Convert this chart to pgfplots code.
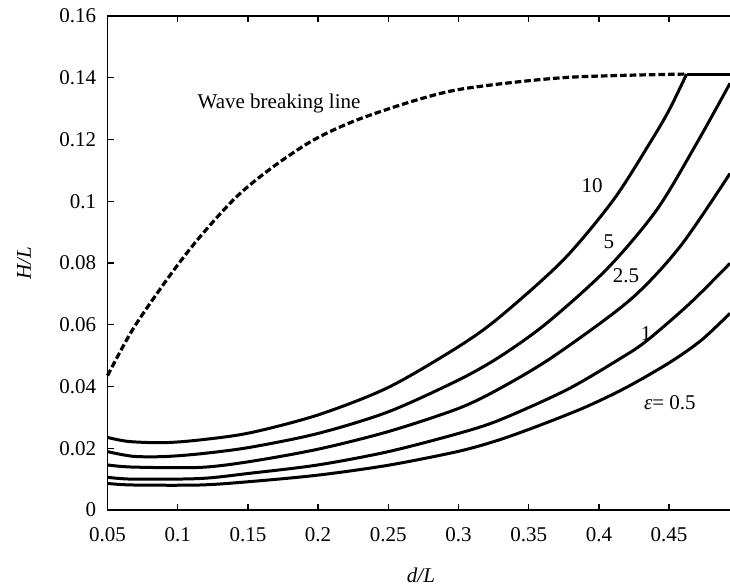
\documentclass[border=0pt]{standalone}
\usepackage{fontspec}
\setmainfont{Liberation Serif}
\usepackage{pgfplots}
\pgfplotsset{compat=1.18}
\begin{document}
\fontsize{10.5}{12.6}\selectfont
\begin{tikzpicture}
\begin{axis}[
  scale only axis, width=311.25pt, height=247pt,
  xmin=0.05, xmax=0.4934, ymin=0, ymax=0.16,
  xtick={0.05,0.1,0.15,0.2,0.25,0.3,0.35,0.4,0.45},
  ytick={0,0.02,0.04,0.06,0.08,0.1,0.12,0.14,0.16},
  xticklabels={0.05,0.1,0.15,0.2,0.25,0.3,0.35,0.4,0.45},
  yticklabels={0,0.02,0.04,0.06,0.08,0.1,0.12,0.14,0.16},
  tick align=inside, major tick length=3pt,
  xtick pos=both, ytick pos=left, xticklabel pos=lower,
  tick style={line width=0.65pt, black},
  axis line style={draw=none},
  scaled ticks=false,
  clip=false,
  /pgf/number format/assume math mode=true,
  tick label style={font=\fontsize{10.5}{12}\selectfont},
  xticklabel style={yshift=-5pt},
  yticklabel style={xshift=-2pt},
  xlabel={\textit{d/L}}, ylabel={\textit{H/L}},
  xlabel style={at={(rel axis cs:0.5036,-0.1316)}, anchor=center},
  ylabel style={at={(rel axis cs:-0.1341,0.5)}, anchor=center, rotate=0},
  label style={font=\fontsize{10.5}{12}\selectfont},
]
\draw[line width=0.65pt] (rel axis cs:1,1) -- (rel axis cs:0,1) -- (rel axis cs:0,0) -- (rel axis cs:1,0);
% wave breaking line
\addplot[black, line width=1.6pt, dash pattern=on 3.3pt off 1.5pt, smooth] coordinates {
(0.05,0.0435) (0.0684,0.0588) (0.0945,0.0760) (0.1159,0.0885) (0.142,0.1015)
(0.1681,0.1112) (0.1966,0.1198) (0.2275,0.1263) (0.2702,0.1328) (0.3058,0.1366)
(0.377,0.1401) (0.4625,0.1412)};
\addplot[black, line width=1.5pt] coordinates {(0.4625,0.1412) (0.4934,0.1412)};
% epsilon = 10
\addplot[black, line width=1.5pt, smooth] coordinates {
(0.05,0.0235) (0.065,0.0222) (0.09,0.0218) (0.116,0.0227) (0.1515,0.0250)
(0.2,0.0308) (0.25,0.0397) (0.3,0.0529) (0.3296,0.0626) (0.3747,0.0810)
(0.4103,0.1004) (0.4365,0.1190) (0.45,0.1295) (0.4625,0.1412)};
% epsilon = 5
\addplot[black, line width=1.5pt, smooth] coordinates {
(0.05,0.0189) (0.068,0.0174) (0.09,0.0173) (0.116,0.0182) (0.1515,0.0203)
(0.2,0.0248) (0.25,0.0318) (0.3,0.0421) (0.3296,0.0497) (0.3628,0.0605)
(0.4056,0.0780) (0.4412,0.0972) (0.4697,0.1188) (0.4934,0.1382)};
% epsilon = 2.5
\addplot[black, line width=1.5pt, smooth] coordinates {
(0.05,0.0146) (0.068,0.0139) (0.116,0.0138) (0.1515,0.0157) (0.2,0.0197)
(0.25,0.0254) (0.3,0.0329) (0.3296,0.0394) (0.3675,0.0497) (0.4221,0.0680)
(0.4578,0.0853) (0.4934,0.1090)};
% epsilon = 1
\addplot[black, line width=1.5pt, smooth] coordinates {
(0.05,0.0106) (0.068,0.0100) (0.116,0.0102) (0.1515,0.0119) (0.2,0.0146)
(0.25,0.0189) (0.3,0.0248) (0.3296,0.0292) (0.377,0.0389) (0.415,0.0490)
(0.434,0.0548) (0.465,0.0670) (0.4934,0.0799)};
% epsilon = 0.5
\addplot[black, line width=1.5pt, smooth] coordinates {
(0.05,0.0086) (0.068,0.0081) (0.116,0.0081) (0.1515,0.0092) (0.2,0.0113)
(0.25,0.0145) (0.3,0.0190) (0.3296,0.0228) (0.36,0.0278) (0.3913,0.0335)
(0.42,0.0398) (0.4505,0.0478) (0.473,0.0550) (0.4934,0.0637)};
\node at (axis cs:0.1722,0.1318) {Wave breaking line};
\node at (axis cs:0.3951,0.1050) {10};
\node at (axis cs:0.4072,0.0868) {5};
\node at (axis cs:0.4193,0.0758) {2.5};
\node at (axis cs:0.4336,0.0573) {1};
\node at (axis cs:0.4506,0.0347) {\textit{ε}= 0.5};
\coordinate (bbsw) at (rel axis cs:-0.1727,-0.1498);
\coordinate (bbne) at (rel axis cs:1,1.0324);
\end{axis}
\pgfresetboundingbox
\path[use as bounding box] (bbsw) rectangle (bbne);
\end{tikzpicture}
\end{document}
